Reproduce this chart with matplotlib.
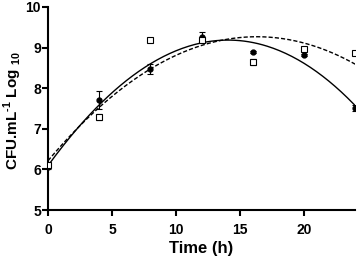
import numpy as np
import matplotlib
matplotlib.use("Agg")
import matplotlib.pyplot as plt

plt.rcParams["font.family"] = ["Liberation Sans", "DejaVu Sans"]
plt.rcParams["font.weight"] = "bold"
plt.rcParams["mathtext.fontset"] = "custom"
plt.rcParams["mathtext.rm"] = "Liberation Sans:bold"
plt.rcParams["mathtext.bf"] = "Liberation Sans:bold"

time_h = [0, 4, 8, 12, 16, 20, 24]

# filled circles
cfu_a = [6.05, 7.71, 8.47, 9.26, 8.89, 8.82, 7.51]
err_a = [0.05, 0.22, 0.13, 0.12, 0.03, 0.03, 0.07]

# open squares
cfu_b = [6.10, 7.29, 9.19, 9.19, 8.64, 8.96, 8.87]
err_b = [0.05, 0.08, 0.04, 0.05, 0.08, 0.03, 0.03]

fig = plt.figure(figsize=(3.58, 2.59), dpi=100)
ax = fig.add_axes([0.134, 0.189, 0.858, 0.784])

t_fit = np.linspace(0, 24, 200)
fit_a = np.polyval(np.polyfit(time_h, cfu_a, 3), t_fit)
fit_b = np.polyval(np.polyfit(time_h, cfu_b, 2), t_fit)
ax.plot(t_fit, fit_a, color="black", lw=1.0, ls="-")
ax.plot(t_fit, fit_b, color="black", lw=1.0, ls=(0, (3, 1.5)))

ax.errorbar(time_h, cfu_a, yerr=err_a, fmt="o", color="black", ms=3.5,
            elinewidth=0.8, capsize=2.5, capthick=0.8, zorder=3)
ax.errorbar(time_h, cfu_b, yerr=err_b, fmt="s", color="black", mfc="white",
            ms=4, mew=0.8, elinewidth=0.8, capsize=2.5, capthick=0.8, zorder=3)

ax.set_xlim(0, 24)
ax.set_ylim(5, 10)
ax.set_xticks([0, 5, 10, 15, 20])
ax.set_yticks([5, 6, 7, 8, 9, 10])
ax.set_xlabel("Time (h)", fontsize=12, fontweight="bold", labelpad=3)
ax.set_ylabel(r"CFU.mL$^{\text{-}1}$ Log $_{10}$", fontsize=11, fontweight="bold")
ax.yaxis.set_label_coords(-0.078, 0.49)

for side in ["top", "right"]:
    ax.spines[side].set_visible(False)
for side in ["left", "bottom"]:
    ax.spines[side].set_linewidth(1.5)
ax.tick_params(width=1.5, length=4, labelsize=10)
ax.tick_params(axis="x", pad=5)
ax.tick_params(axis="y", pad=1)
for lab in ax.get_xticklabels() + ax.get_yticklabels():
    lab.set_fontweight("bold")

fig.savefig("out.png", dpi=100)
